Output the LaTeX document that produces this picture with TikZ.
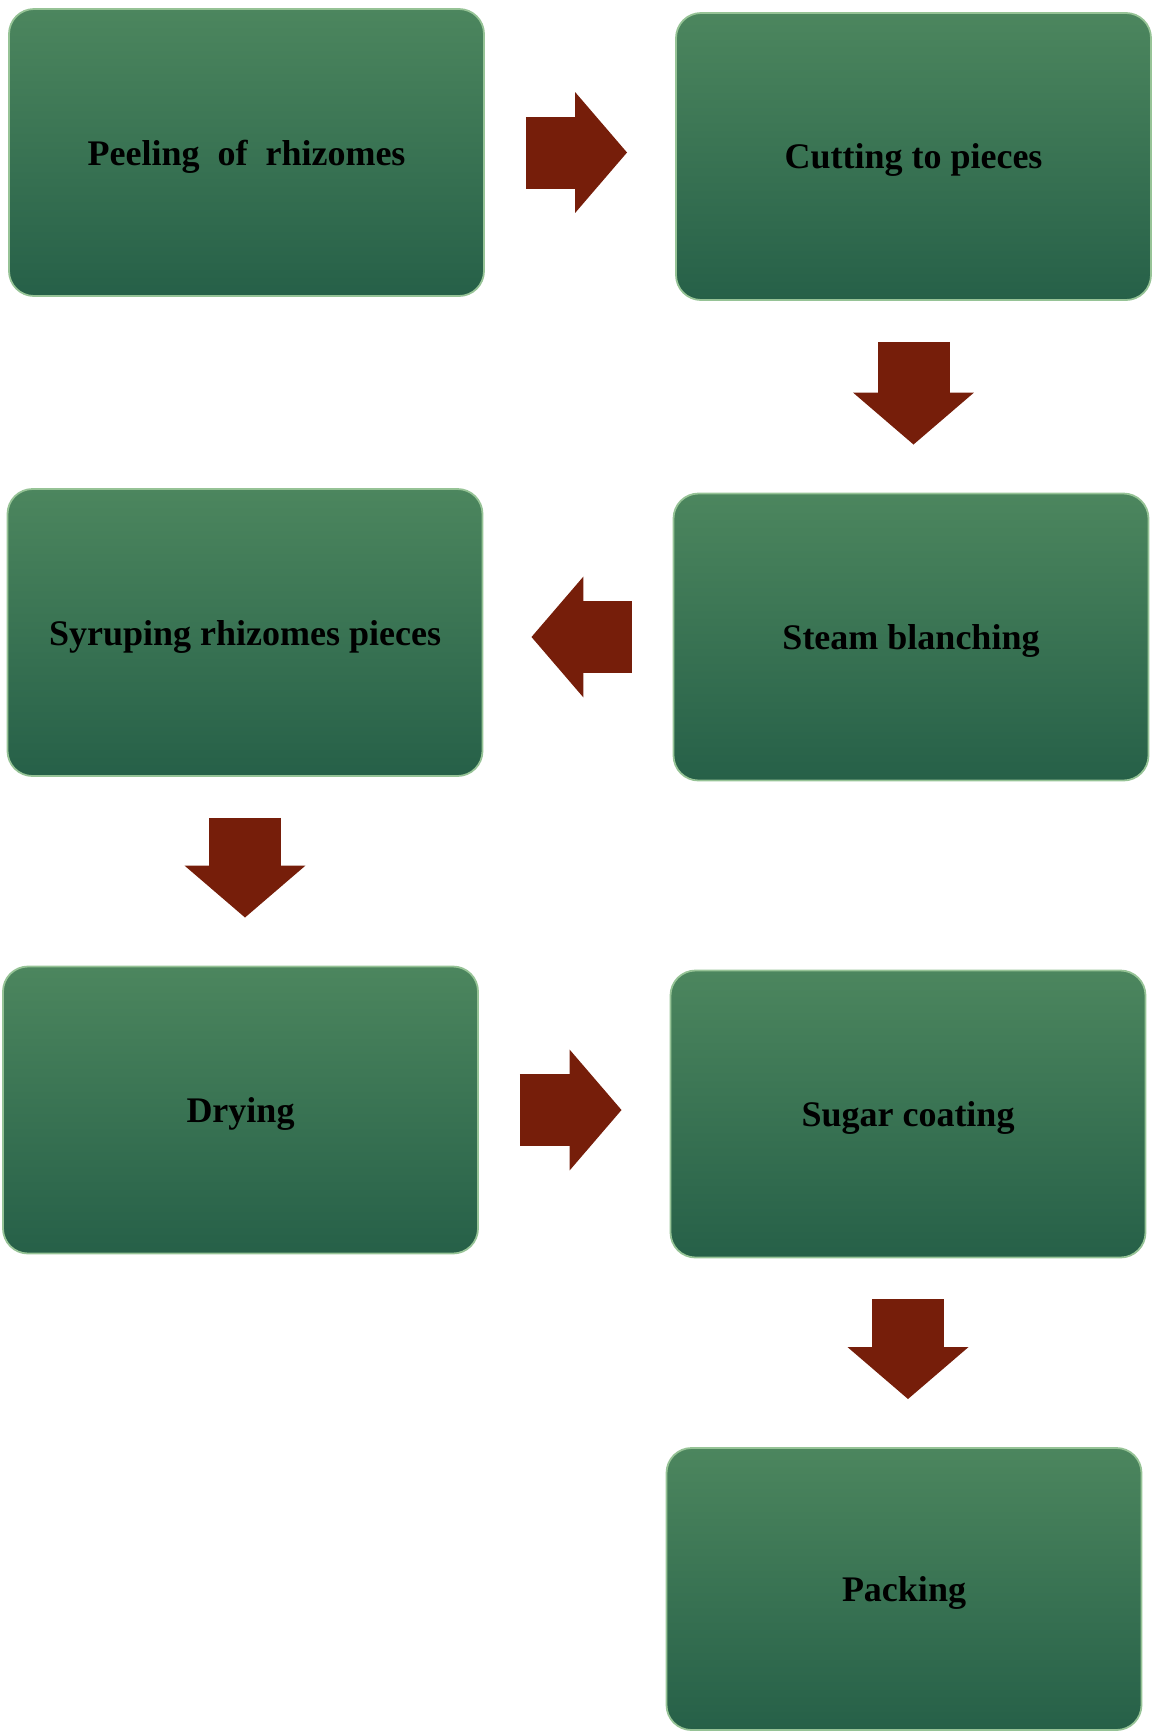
\documentclass[tikz,border=0pt]{standalone}
\usepackage{fontspec}
\setmainfont{Liberation Serif}
\usepackage{xcolor}
\usepackage{tikz}
\usetikzlibrary{arrows.meta, positioning}
\definecolor{gntop}{RGB}{76,134,94}
\definecolor{gnbot}{RGB}{38,96,72}
\definecolor{gnedge}{RGB}{150,195,150}
\definecolor{arrbrown}{RGB}{118,30,10}

\begin{document}
\begin{tikzpicture}[
  x=1pt, y=-1pt,
  stepbox/.style={rectangle, rounded corners=25pt, draw=gnedge, line width=1.8pt,
                  top color=gntop, bottom color=gnbot, text=black,
                  font=\fontsize{36}{40}\selectfont\bfseries,
                  minimum width=475pt, minimum height=287pt, align=center,
                  text depth=0pt},
  flowarrow/.style={line width=72pt, color=arrbrown,
                    -{Triangle[length=52pt, width=118pt]},
                    shorten <=41pt, shorten >=48pt},
]
\useasboundingbox (0,0) rectangle (1159,1733);

% Steps
\node[stepbox] (peel)  at (246.5,152.5) {Peeling~~of~~rhizomes};
\node[stepbox] (cut)   at (913.5,156.5) {Cutting to pieces};
\node[stepbox] (steam) at (911,637)     {Steam blanching};
\node[stepbox] (syrup) at (245,632.5)   {Syruping rhizomes pieces};
\node[stepbox] (dry)   at (240.5,1110)  {Drying};
\node[stepbox] (sugar) at (908,1114)    {Sugar coating};
\node[stepbox, minimum height=282pt] (pack) at (904,1589) {Packing};

% Flow
\draw[flowarrow] (peel.east)   -- (cut.west |- peel.east);
\draw[flowarrow] (cut.south)   -- (steam.north -| cut.south);
\draw[flowarrow] (steam.west)  -- (syrup.east |- steam.west);
\draw[flowarrow] (syrup.south) -- (dry.north -| syrup.south);
\draw[flowarrow] (dry.east)    -- (sugar.west |- dry.east);
\draw[flowarrow] (sugar.south) -- (pack.north -| sugar.south);

\end{tikzpicture}
\end{document}
